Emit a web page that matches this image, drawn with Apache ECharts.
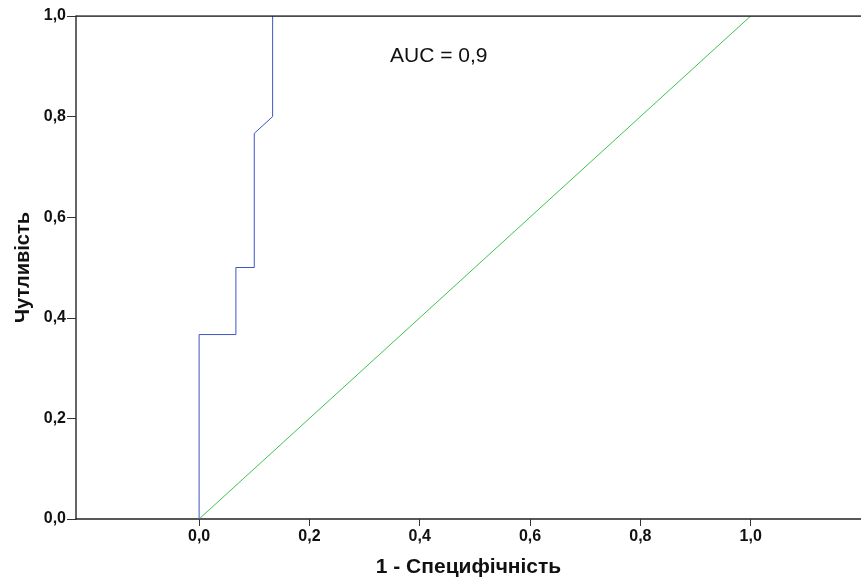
<!DOCTYPE html>
<html>
<head>
<meta charset="utf-8">
<script src="https://cdn.jsdelivr.net/npm/echarts@6/dist/echarts.min.js"></script>
<style>
  html, body { margin: 0; padding: 0; background: #fff; }
  #chart { width: 861px; height: 581px; }
</style>
</head>
<body>
<div id="chart"></div>
<script>
// ROC curve points: [1 - specificity, sensitivity]
const rocFpr = [0, 0, 0.0667, 0.0667, 0.1, 0.1, 0.1333, 0.1333];
const rocTpr = [0, 0.3667, 0.3667, 0.5, 0.5, 0.7667, 0.8, 1.0];
// Reference (chance) line
const refFpr = [0, 1];
const refTpr = [0, 1];
// Tick positions shown on each axis
const xTicks = [0, 0.2, 0.4, 0.6, 0.8, 1.0];
const yTicks = [0, 0.2, 0.4, 0.6, 0.8, 1.0];
const aucText = 'AUC = 0,9';

const X_MIN = -0.2232;
const X_MAX = 1.2;

const fmt = v => v.toFixed(1).replace('.', ',');
const font = 'Liberation Sans, Arial, sans-serif';

const chart = echarts.init(document.getElementById('chart'));
chart.setOption({
  animation: false,
  backgroundColor: '#fff',
  grid: { left: 76, top: 16, right: 0, bottom: 62, containLabel: false, outerBoundsMode: 'none' },
  xAxis: {
    type: 'value',
    min: X_MIN,
    max: X_MAX,
    name: '1 - Специфічність',
    nameLocation: 'middle',
    nameGap: 38,
    nameMoveOverlap: false,
    nameTextStyle: { fontFamily: font, fontWeight: 'bold', fontSize: 21, color: '#111' },
    axisLine: { show: true, onZero: false, lineStyle: { color: '#222', width: 1.5 } },
    axisTick: { show: true, length: 7, customValues: xTicks, lineStyle: { color: '#333', width: 1 } },
    axisLabel: { customValues: xTicks, formatter: fmt, margin: 10, fontFamily: font, fontWeight: 'bold', fontSize: 16, color: '#111' },
    splitLine: { show: false }
  },
  yAxis: {
    type: 'value',
    min: 0,
    max: 1,
    interval: 0.2,
    name: 'Чутливість',
    nameLocation: 'middle',
    nameGap: 43,
    nameRotate: 90,
    nameMoveOverlap: false,
    nameTextStyle: { fontFamily: font, fontWeight: 'bold', fontSize: 20, color: '#111' },
    axisLine: { show: true, onZero: false, lineStyle: { color: '#333', width: 1.5 } },
    axisTick: { show: true, length: 9, customValues: yTicks, lineStyle: { color: '#333', width: 1 } },
    axisLabel: { customValues: yTicks, formatter: fmt, margin: 10, fontFamily: font, fontWeight: 'bold', fontSize: 16, color: '#111' },
    splitLine: { show: false }
  },
  graphic: [{
    type: 'text',
    left: 390,
    top: 46,
    style: { text: aucText, font: '21px ' + font, fill: '#111' }
  }],
  series: [
    {
      type: 'line',
      data: refFpr.map((x, i) => [x, refTpr[i]]),
      showSymbol: false,
      lineStyle: { color: '#3fc24f', width: 1 },
      z: 2
    },
    {
      type: 'line',
      data: rocFpr.map((x, i) => [x, rocTpr[i]]),
      showSymbol: false,
      lineStyle: { color: '#3f55c0', width: 1 },
      z: 3
    },
    {
      // top frame line of the plot area
      type: 'line',
      data: [[X_MIN, 1], [X_MAX, 1]],
      showSymbol: false,
      lineStyle: { color: '#111', width: 1.5 },
      z: 4
    }
  ]
});
</script>
</body>
</html>
